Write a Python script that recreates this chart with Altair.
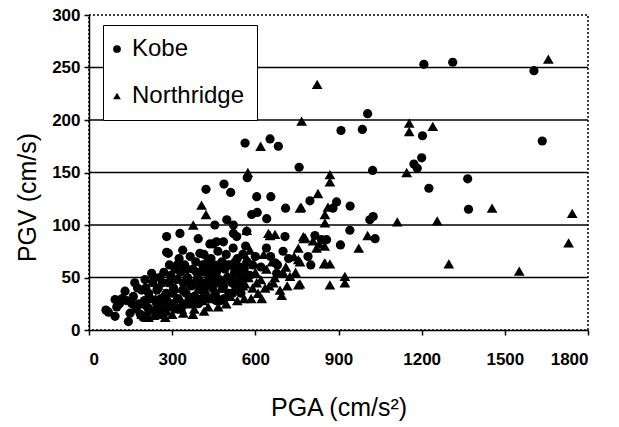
import altair as alt
import pandas as pd

# Kobe earthquake records (PGA cm/s^2, PGV cm/s)
kobe_pga = [1208, 1312, 1605, 1635, 1005, 909, 986, 1203, 1200, 1172, 1184, 1366, 1226, 1369, 1023, 758,
            563, 653, 683, 571, 422, 487, 511, 605, 656, 709, 797, 587, 607, 641, 454, 497, 521, 880, 893,
            942, 1013, 1025, 941, 1032, 815, 839, 857, 907, 280, 328, 338, 394, 280, 533, 707, 436, 460,
            400, 448, 286, 485, 521, 569, 671, 677,
            61, 70, 94, 94, 100, 120, 130, 142, 148, 155, 160, 170, 175, 190, 195, 200, 202, 210, 215, 226,
            230, 240, 244, 250, 255, 260, 270, 275, 280, 285, 290, 295, 300, 305, 310, 316, 320, 325, 330,
            335, 340, 345, 350, 355, 360, 365, 370, 375, 380, 385, 390, 395, 400, 405, 410, 415, 420, 425,
            430, 435, 440, 445, 450, 455, 460, 465, 470, 475, 480, 485, 490, 495, 500, 505, 510, 515, 520,
            525, 530, 535, 540, 545, 550, 555, 560, 570, 580, 600, 620, 640, 655, 680, 700, 720, 790, 800,
            110, 135, 165, 180, 185, 205, 220, 235, 245, 265, 268, 278, 298, 302, 312, 318, 338, 352, 362,
            372, 388, 398, 408, 418, 428, 438, 448, 458, 468, 478, 488, 498, 508, 518, 528, 538, 548, 558,
            565, 590]
kobe_pgv = [253, 255, 247, 180, 206, 190, 191, 185, 164, 158, 154, 144, 135, 115, 152, 155,
            178, 182, 175, 145, 134, 139, 131, 127, 127, 116, 123, 110, 112, 106, 100, 105, 100, 116, 122,
            118, 105, 108, 95, 87, 90, 86, 86, 81, 89, 92, 76, 87, 74, 89, 89, 82, 84,
            73, 82, 73, 84, 92, 94, 64, 54,
            19, 17, 13, 29, 22, 30, 37, 8, 16, 25, 32, 20, 40, 38, 12, 28, 48, 22, 35, 54,
            45, 18, 25, 40, 50, 30, 55, 20, 35, 45, 62, 52, 25, 40, 58, 48, 30, 68, 55,
            22, 45, 62, 35, 50, 28, 70, 42, 58, 32, 65, 48, 25, 55, 38, 62, 72, 45, 30,
            58, 50, 68, 40, 62, 35, 55, 75, 48, 28, 65, 42, 58, 72, 50, 35, 62, 45, 78,
            55, 40, 68, 52, 60, 48, 72, 58, 65, 52, 70, 60, 78, 70, 62, 75, 68, 70, 62,
            25, 28, 45, 25, 15, 40, 30, 50, 38, 45, 15, 28, 48, 35, 20, 62, 38, 58, 45,
            25, 55, 42, 30, 55, 65, 42, 55, 28, 62, 45, 30, 62, 48, 35, 65, 45, 35, 50,
            80, 62]

# Northridge earthquake records
north_pga = [190, 200, 215, 225, 240, 250, 260, 270, 280, 290, 300, 310, 320, 330, 340, 350, 360, 370, 380,
             390, 400, 410, 420, 430, 440, 450, 460, 466, 470, 480, 490, 500, 510, 520, 530, 540, 550, 560,
             563, 570, 575, 581, 590, 593, 600, 610, 620, 623, 630, 640, 650, 660, 670, 689, 695, 700, 710,
             725, 740, 755, 755, 755, 761, 761, 775, 779, 821, 851, 848, 869, 869, 923, 923, 851, 862, 851,
             826, 761, 765, 869, 869, 808, 830, 850, 973, 1005, 1112, 1256, 1146, 1155, 1155, 1240, 767,
             823, 1657, 619, 573, 406, 422, 376, 569, 647, 653, 671, 773, 1454, 1743, 1730, 1298, 1552,
             210, 235, 255, 275, 295, 315, 335, 355, 375, 395, 415, 435, 455, 475, 495, 515, 535, 555,
             585, 605, 635, 665, 715, 745]
north_pgv = [15, 25, 12, 20, 30, 15, 22, 35, 18, 28, 15, 40, 22, 30, 16, 38, 25, 45, 20,
             32, 50, 28, 38, 22, 55, 35, 45, 22, 30, 60, 40, 52, 32, 62, 45, 38, 55, 30,
             44, 68, 50, 76, 40, 63, 55, 35, 48, 30, 72, 58, 42, 65, 50, 38, 33, 55, 60,
             51, 70, 43, 67, 78, 65, 44, 87, 88, 78, 64, 63, 63, 43, 51, 45, 102, 117, 110,
             130, 116, 117, 148, 141, 85, 82, 80, 78, 90, 103, 104, 150, 197, 189, 194, 199,
             234, 258, 175, 150, 119, 110, 100, 95, 92, 90, 91, 89, 116, 111, 83, 63, 56,
             18, 14, 28, 12, 22, 30, 20, 28, 15, 40, 18, 30, 48, 40, 25, 50, 28, 42,
             30, 45, 40, 45, 42, 55]

events = ["Kobe", "Northridge"]
grid_values = [50, 100, 150, 200, 250]
x_ticks = [0, 300, 600, 900, 1200, 1500, 1800]
y_ticks = [0, 50, 100, 150, 200, 250, 300]

df = pd.concat([
    pd.DataFrame({"PGA": kobe_pga, "PGV": kobe_pgv, "Event": events[0]}),
    pd.DataFrame({"PGA": north_pga, "PGV": north_pgv, "Event": events[1]}),
])
grid_df = pd.DataFrame({"g": grid_values})

FONT = "Liberation Sans"

xscale = alt.Scale(domain=[0, 1800], nice=False, zero=True)
yscale = alt.Scale(domain=[0, 300], nice=False)

grid = alt.Chart(grid_df).mark_rule(color="black", strokeWidth=1.6).encode(
    y=alt.Y("g:Q", scale=yscale)
)

x_enc = alt.X("PGA:Q", scale=xscale,
              axis=alt.Axis(values=x_ticks, title="PGA (cm/s²)", grid=False, format="d",
                            titleX=249.5, titleY=85, titleBaseline="alphabetic",
                            titleAlign="center", labelPadding=16))
y_enc = alt.Y("PGV:Q", scale=yscale,
              axis=alt.Axis(values=y_ticks, title="PGV (cm/s)", grid=False, format="d",
                            titleX=-62, titleY=182, titleAngle=270, titleAlign="center",
                            titleBaseline="middle", labelPadding=4))
shape_enc = alt.Shape("Event:N",
                      scale=alt.Scale(domain=events, range=["circle", "triangle-up"]),
                      legend=alt.Legend(title=None, orient="none", legendX=14, legendY=10,
                                        padding=12, rowPadding=23, labelFontSize=24, labelFont=FONT,
                                        labelColor="black", symbolSize=60, symbolFillColor="black",
                                        symbolStrokeColor="black", symbolStrokeWidth=0,
                                        symbolOffset=-10,
                                        strokeColor="black", fillColor="white", labelOffset=3))

base = alt.Chart(df).encode(x=x_enc, y=y_enc, shape=shape_enc)

kobe_layer = base.transform_filter(alt.datum.Event == events[0]).mark_point(
    filled=True, color="black", opacity=1, size=85)
north_layer = base.transform_filter(alt.datum.Event == events[1]).mark_point(
    filled=True, color="black", opacity=1, size=115)

chart = alt.layer(grid, kobe_layer, north_layer).properties(
    width=499, height=315,
    padding={"left": 89, "top": 15, "right": 31, "bottom": 97},
    autosize=alt.AutoSizeParams(type="none"),
    background="white",
).configure_view(
    stroke="black", strokeDash=[2, 2], strokeWidth=1.5
).configure_axis(
    domainColor="black", domainWidth=1.5, tickColor="black", tickSize=5, tickWidth=1.5,
    labelFont=FONT, labelFontSize=17, labelFontWeight="bold", labelColor="black",
    titleFont=FONT, titleFontSize=25, titleFontWeight="normal", titleColor="black",
)

chart.save("out.html", embed_options={"renderer": "svg", "actions": False})
